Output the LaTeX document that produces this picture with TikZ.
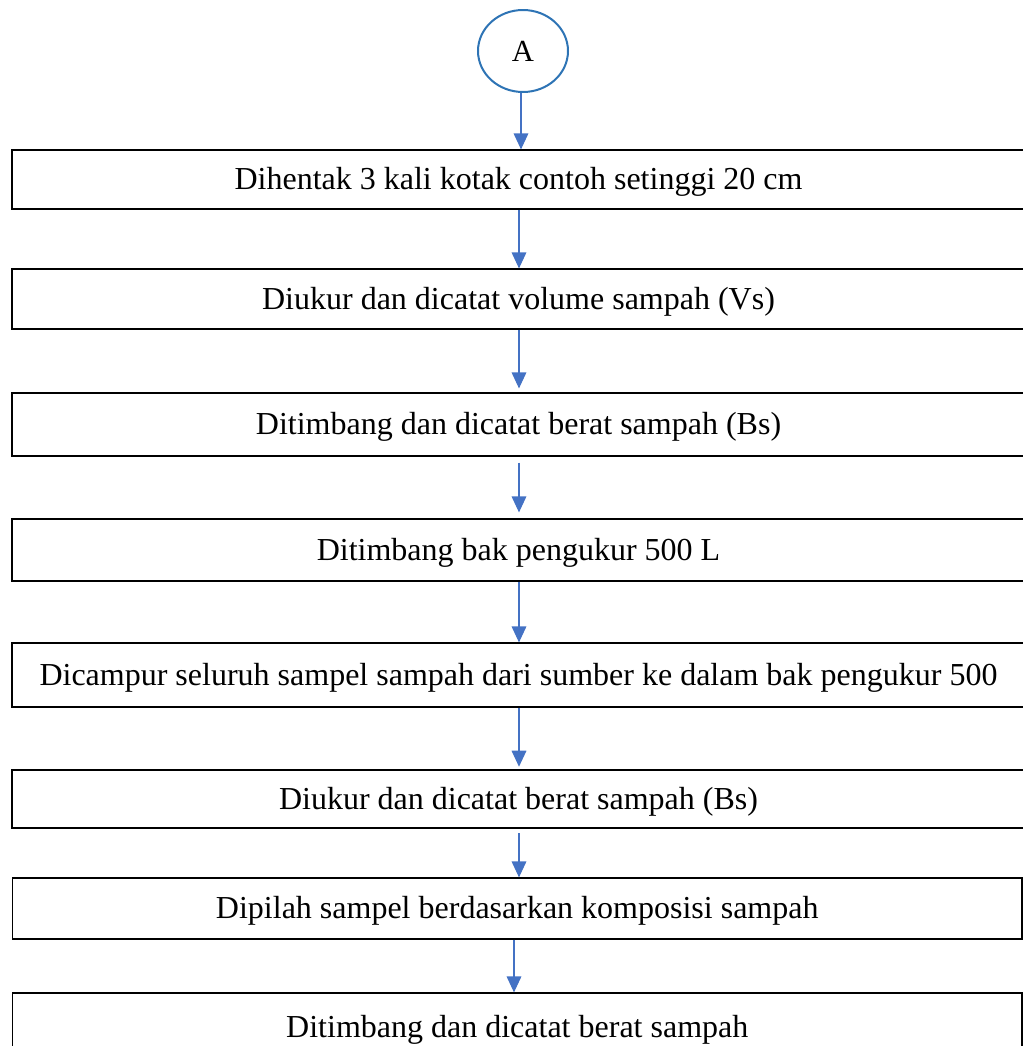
\documentclass[tikz,border=0pt]{standalone}
\usepackage{fontspec}
\setmainfont{Liberation Serif}
\usetikzlibrary{arrows.meta,shapes.geometric}
\definecolor{flowblue}{HTML}{4472C4}
\definecolor{ringblue}{HTML}{2E74B5}
\begin{document}
\begin{tikzpicture}[x=0.75pt,y=-0.75pt,
  stepbox/.style={draw=black, line width=0.9pt, rectangle, inner sep=0pt,
    font=\fontsize{24}{28}\selectfont, text height=19pt, text depth=4pt},
  widebox/.style={stepbox, minimum width=759.75pt},
  narrowbox/.style={stepbox, minimum width=757pt},
  connector/.style={draw=flowblue, line width=0.9pt,
    -{Triangle[length=12pt,width=11pt]}}]
\useasboundingbox (0,0) rectangle (1023,1046);

% start connector
\node[ellipse, draw=ringblue, line width=1.5pt, minimum width=67.5pt,
      minimum height=61.5pt, inner sep=0pt, font=\fontsize{23}{27}\selectfont]
      (A) at (523,51) {A};

% process steps
\node[widebox, minimum height=44.25pt] (b1) at (518.5,179.5)
  {Dihentak 3 kali kotak contoh setinggi 20 cm};
\node[widebox, minimum height=45pt] (b2) at (518.5,299)
  {Diukur dan dicatat volume sampah (Vs)};
\node[widebox, minimum height=47.25pt] (b3) at (518.5,424.5)
  {Ditimbang dan dicatat berat sampah (Bs)};
\node[widebox, minimum height=46.5pt] (b4) at (518.5,550)
  {Ditimbang bak pengukur 500 L};
\node[widebox, minimum height=48pt] (b5) at (518.5,675)
  {Dicampur seluruh sampel sampah dari sumber ke dalam bak pengukur 500};
\node[widebox, minimum height=43.5pt] (b6) at (518.5,799)
  {Diukur dan dicatat berat sampah (Bs)};
\node[narrowbox, minimum height=45.75pt] (b7) at (517.25,908.5)
  {Dipilah sampel berdasarkan komposisi sampah};
\node[narrowbox, minimum height=51pt] (b8) at (517.25,1027)
  {Ditimbang dan dicatat berat sampah};

% arrow columns
\coordinate (c0) at (521,0);
\coordinate (c1) at (519,0);
\coordinate (c7) at (514,0);

% connectors
\draw[connector] (A.south -| c0) -- (b1.north -| c0);
\draw[connector] (b1.south -| c1) -- (b2.north -| c1);
\draw[connector, shorten >=3pt] (b2.south -| c1) -- (b3.north -| c1);
\draw[connector, shorten <=4.5pt, shorten >=4.5pt] (b3.south -| c1) -- (b4.north -| c1);
\draw[connector] (b4.south -| c1) -- (b5.north -| c1);
\draw[connector, shorten >=2pt] (b5.south -| c1) -- (b6.north -| c1);
\draw[connector, shorten <=3.5pt] (b6.south -| c1) -- (b7.north -| c1);
\draw[connector] (b7.south -| c7) -- (b8.north -| c7);
\end{tikzpicture}
\end{document}
